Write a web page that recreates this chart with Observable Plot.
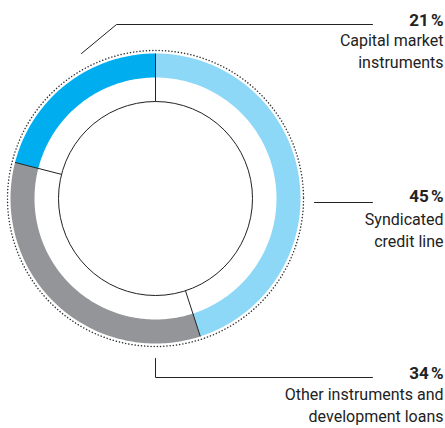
<!DOCTYPE html>
<html>
<head>
<meta charset="utf-8">
<script src="https://cdn.jsdelivr.net/npm/d3@7"></script>
<script src="https://cdn.jsdelivr.net/npm/@observablehq/plot@0.6"></script>
<style>
  html, body { margin: 0; padding: 0; background: #fff; }
  #chart svg { display: block; }
</style>
</head>
<body>
<div id="chart"></div>
<script>
// ---- data ----
const categories = ["Syndicated credit line", "Other instruments and development loans", "Capital market instruments"];
const shares = [45, 34, 21];
const percentLabels = ["45\u202F%", "34\u202F%", "21\u202F%"];
const descLines = ["Syndicated\ncredit line", "Other instruments and\ndevelopment loans", "Capital market\ninstruments"];
const colors = ["#8ED8F7", "#939598", "#00AEEF"];

// ---- layout (chart units, 1 unit = 1 px, origin at donut centre, y up) ----
const W = 445, H = 428;
const cx = 155, cy = 198;
const rInner = 97, rRing0 = 121, rRing1 = 145, rDots = 148;
const labelX = 288;
const percentY = [-3, -180, 173];
const descY = [-48, -223, 131];
const leaders = [
  [[159, -4], [217, -4]],
  [[0, -160], [0, -179], [217, -179]],
  [[-74, 145], [-39, 174], [217, 174]]
];

const total = d3.sum(shares);
let acc = 0;
const segs = shares.map((s, i) => {
  const a0 = acc / total * 2 * Math.PI;
  acc += s;
  const a1 = acc / total * 2 * Math.PI;
  return {i, a0, a1};
});
const pt = (r, a) => ({x: r * Math.sin(a), y: r * Math.cos(a)});

const ringPts = [];
segs.forEach(({i, a0, a1}) => {
  const n = Math.max(2, Math.ceil((a1 - a0) / (Math.PI / 180)));
  for (let k = 0; k <= n; k++) ringPts.push({...pt(rRing1, a0 + (a1 - a0) * k / n), key: categories[i]});
  for (let k = n; k >= 0; k--) ringPts.push({...pt(rRing0, a0 + (a1 - a0) * k / n), key: categories[i]});
});
const dividers = segs.map(({a0}) => ({p0: pt(rInner, a0), p1: pt(rRing1, a0)}));
const leaderPts = leaders.flatMap((L, i) => L.map(([x, y]) => ({x, y, key: i})));

const chart = Plot.plot({
  width: W, height: H,
  margin: 0,
  x: {domain: [-cx, W - cx], axis: null},
  y: {domain: [cy - H, cy], axis: null},
  color: {domain: categories, range: colors},
  style: {fontFamily: "Roboto, sans-serif", color: "#222", background: "#fff"},
  marks: [
    Plot.line(ringPts, {x: "x", y: "y", z: "key", fill: "key", stroke: null}),
    Plot.dot([0], {x: () => 0, y: () => 0, r: rDots, fill: "none", stroke: "#333", strokeWidth: 1.5, strokeDasharray: "0.1 3.1", strokeLinecap: "round"}),
    Plot.dot([0], {x: () => 0, y: () => 0, r: rInner, fill: "none", stroke: "#222", strokeWidth: 1}),
    Plot.link(dividers, {x1: d => d.p0.x, y1: d => d.p0.y, x2: d => d.p1.x, y2: d => d.p1.y, stroke: "#222", strokeWidth: 1}),
    Plot.line(leaderPts, {x: "x", y: "y", z: "key", stroke: "#222", strokeWidth: 1}),
    Plot.text(percentLabels, {x: () => labelX, y: (d, i) => percentY[i], text: d => d, textAnchor: "end", lineAnchor: "bottom", fontSize: 17, fontWeight: "bold", fill: "#222"}),
    Plot.text(descLines, {x: () => labelX, y: (d, i) => descY[i], text: d => d, textAnchor: "end", lineAnchor: "bottom", lineHeight: 1.32, fontSize: 16, fill: "#222"})
  ]
});
document.getElementById("chart").appendChild(chart);
</script>
</body>
</html>
